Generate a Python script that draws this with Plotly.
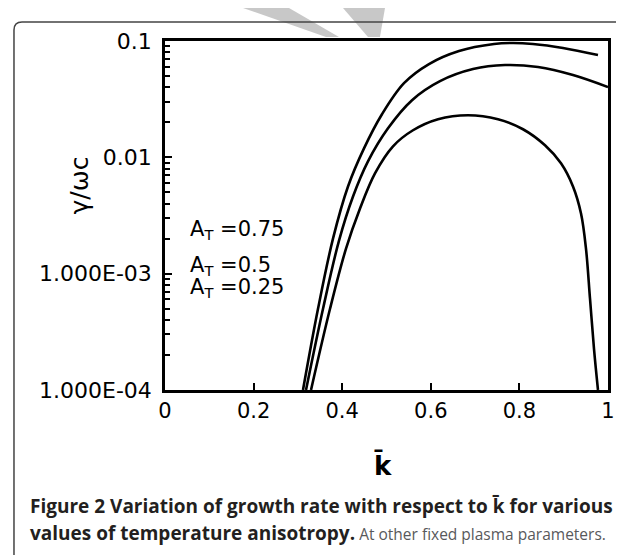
import plotly.graph_objects as go

# ---- data ----
k_075 = [0.3115, 0.3454, 0.3792, 0.4131, 0.4492, 0.4898, 0.5395, 0.5959, 0.6637, 0.7427, 0.7856,
         0.8307, 0.8984, 0.9774]
g_075 = [1.0e-4, 4.99e-4, 2.00e-3, 5.62e-3, 0.01195, 0.02348, 0.04344, 0.06334, 0.0820, 0.0942, 0.0961,
         0.0942, 0.0870, 0.0757]

k_050 = [0.3183, 0.3567, 0.3928, 0.4244, 0.4582, 0.5034, 0.5576, 0.6208, 0.6953, 0.7675, 0.8420,
         0.9210, 1.0]
g_050 = [1.0e-4, 4.99e-4, 1.925e-3, 4.61e-3, 9.24e-3, 0.01778, 0.03100, 0.04518, 0.05737, 0.0621, 0.05968,
         0.05092, 0.04012]

k_025 = [0.3296, 0.3725, 0.4086, 0.4402, 0.4740, 0.5147, 0.5598, 0.6163, 0.6840, 0.7517, 0.8081,
         0.8578, 0.8939, 0.9210, 0.9391, 0.9503, 0.9594, 0.9684, 0.9774]
g_025 = [1.0e-4, 4.99e-4, 1.642e-3, 3.634e-3, 7.28e-3, 0.01244, 0.01709, 0.02127, 0.02302, 0.02127, 0.01743,
         0.01269, 8.88e-3, 5.62e-3, 3.29e-3, 1.642e-3, 6.09e-4, 2.26e-4, 1.0e-4]

x_tickvals = [0, 0.2, 0.4, 0.6, 0.8, 1]
x_ticktext = ["0", "0.2", "0.4", "0.6", "0.8", "1"]
y_tickvals = [1e-4, 1e-3, 1e-2, 1e-1]
y_ticktext = ["1.000E-04", "1.000E-03", "0.01", "0.1"]
y_minor = [m * 10.0 ** e for e in (-4, -3, -2) for m in range(2, 10)]

legend_labels = ["A<sub>T</sub> =0.75", "A<sub>T</sub> =0.5", "A<sub>T</sub> =0.25"]

# ---- layout geometry (pixels) ----
W, H = 624, 555
L, R, T, B = 157, 600, 33, 382


def px(X):
    return (X - L) / (R - L)


def py(Y):
    return (B - Y) / (B - T)


FONT = "DejaVu Sans"

fig = go.Figure()
for kk, gg in ((k_075, g_075), (k_050, g_050), (k_025, g_025)):
    fig.add_trace(go.Scatter(x=kk, y=gg, mode="lines",
                             line=dict(color="black", width=2.6, shape="spline", smoothing=1.0),
                             showlegend=False, hoverinfo="skip"))

fig.update_layout(
    width=W, height=H,
    margin=dict(l=L, r=W - R, t=T, b=H - B, pad=0),
    paper_bgcolor="white", plot_bgcolor="white",
    showlegend=False,
    font=dict(family=FONT, color="black"),
)
fig.update_xaxes(range=[0, 1], showgrid=False, zeroline=False,
                 showline=True, linecolor="black", linewidth=2.5, mirror=True,
                 ticks="inside", ticklen=7, tickwidth=2, tickcolor="black",
                 tickvals=x_tickvals, ticktext=x_ticktext,
                 tickfont=dict(size=21, family=FONT))
fig.update_yaxes(type="log", range=[-4, -1], showgrid=False, zeroline=False,
                 showline=True, linecolor="black", linewidth=2.5, mirror=True,
                 ticks="inside", ticklen=7, tickwidth=2, tickcolor="black",
                 tickvals=y_tickvals, ticktext=y_ticktext, ticklabelstandoff=6,
                 tickfont=dict(size=22, family=FONT),
                 minor=dict(tickvals=y_minor, ticks="inside", ticklen=5, tickwidth=2, tickcolor="black"))

# axis titles
fig.add_annotation(xref="paper", yref="paper", x=px(55), y=py(178), text="γ/ωc",
                   textangle=-90, showarrow=False, font=dict(size=25, family=FONT))
fig.add_annotation(xref="paper", yref="paper", x=px(375), y=py(475), text="<b>k\u0304</b>",
                   showarrow=False, font=dict(size=26, family=FONT))

# curve labels
for lab, yy in zip(legend_labels, (222, 258, 295)):
    fig.add_annotation(xref="paper", yref="paper", x=px(180), y=py(yy), text=lab,
                       xanchor="left", showarrow=False, font=dict(size=21, family=FONT))

# caption
fig.add_annotation(xref="paper", yref="paper", x=px(20), y=py(513), xanchor="left",
                   text="<b>Figure 2 Variation of growth rate with respect to k\u0304 for various</b>",
                   showarrow=False, font=dict(size=19, family="Open Sans", color="#231f20"))
fig.add_annotation(xref="paper", yref="paper", x=px(20), y=py(540), xanchor="left",
                   text="<b>values of temperature anisotropy.</b>"
                        "<span style='color:#58595b;font-size:15.5px'> At other fixed plasma parameters.</span>",
                   showarrow=False, font=dict(size=19, family="Open Sans", color="#231f20"))


# watermark bands and rounded frame
def poly(pts):
    return "M " + " L ".join(f"{px(a):.4f},{py(b):.4f}" for a, b in pts) + " Z"


fig.add_shape(type="path", xref="paper", yref="paper", layer="below",
              path=poly([(235, 0), (281, 0), (331, 29), (318, 29)]),
              fillcolor="#c8c8c8", line=dict(width=0))
fig.add_shape(type="path", xref="paper", yref="paper", layer="below",
              path=poly([(335, 0), (377, 0), (372, 29), (360, 29)]),
              fillcolor="#c8c8c8", line=dict(width=0))
frame = (f"M {px(6):.4f},{py(560):.4f} L {px(6):.4f},{py(22):.4f} "
         f"Q {px(6):.4f},{py(14):.4f} {px(14):.4f},{py(14):.4f} "
         f"L {px(613):.4f},{py(14):.4f} Q {px(621):.4f},{py(14):.4f} {px(621):.4f},{py(22):.4f} "
         f"L {px(621):.4f},{py(560):.4f}")
fig.add_shape(type="path", xref="paper", yref="paper", path=frame,
              line=dict(color="#444", width=1.5))

fig.write_html("out.html")
